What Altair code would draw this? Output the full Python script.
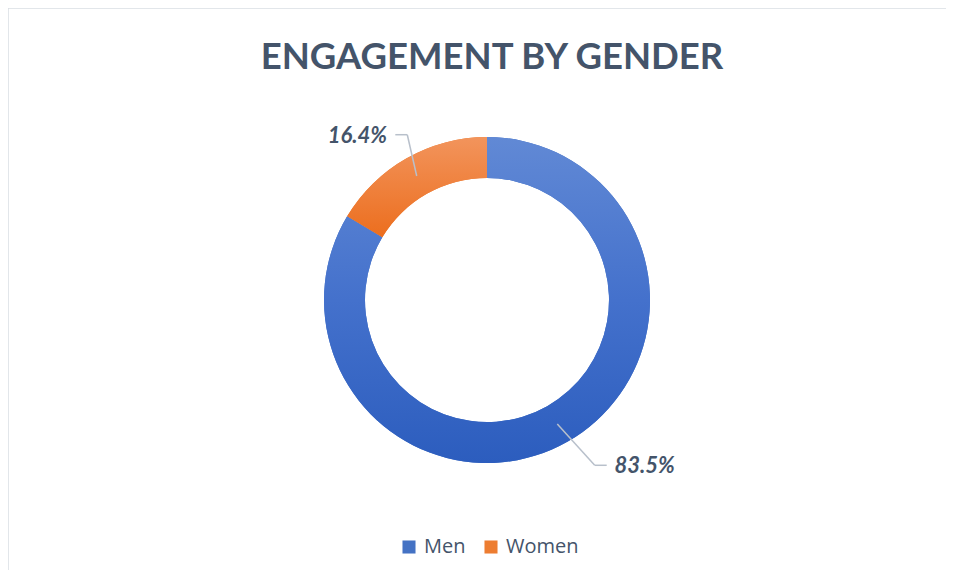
import altair as alt
import pandas as pd

# ---- data ----
categories = ["Men", "Women"]
shares = [83.5, 16.4]
base_colors = ["#4472C4", "#ED7D31"]
title_text = "ENGAGEMENT BY GENDER"

# ---- layout / style ----
W, H = 938, 562
CX, CY = 479, 292          # donut centre inside the view
R_IN, R_OUT = 122, 163
R_MID = (R_IN + R_OUT) / 2
R_ELBOW = 190
TEXT_COLOR = "#44546A"
FONT = "Lato"

df = pd.DataFrame({
    "category": categories,
    "value": shares,
    "order": list(range(len(categories))),
})

men_grad = alt.Gradient(
    gradient="linear", x1=0, x2=0, y1=0, y2=1,
    stops=[alt.GradientStop(color="#6189D5", offset=0),
           alt.GradientStop(color="#4471CC", offset=0.5),
           alt.GradientStop(color="#2C5DBE", offset=1)],
)
women_grad = alt.Gradient(
    gradient="linear", x1=0, x2=0, y1=0, y2=1,
    stops=[alt.GradientStop(color="#F2945C", offset=0),
           alt.GradientStop(color="#EC6E1E", offset=1)],
)

theta = alt.Theta("value:Q", stack=True)
order = alt.Order("order:Q")

ring = alt.Chart(df).mark_arc(
    innerRadius=R_IN, outerRadius=R_OUT, x=CX, y=CY
).encode(
    theta=theta,
    order=order,
    color=alt.Color(
        "category:N",
        scale=alt.Scale(domain=categories, range=base_colors),
        legend=alt.Legend(
            title=None, orient="none", direction="horizontal",
            legendX=391, legendY=529,
            symbolType="square", symbolSize=170, symbolStrokeWidth=0,
            labelFont="Open Sans", labelFontSize=20, labelColor=TEXT_COLOR,
            labelOffset=5, columnPadding=15,
        ),
    ),
)

ring_grad = alt.Chart(df).mark_arc(
    innerRadius=R_IN, outerRadius=R_OUT, x=CX, y=CY
).encode(
    theta=theta,
    order=order,
    color=alt.condition(alt.datum.category == categories[0],
                        alt.value(men_grad), alt.value(women_grad)),
)

geo = alt.Chart(df).transform_window(
    cum="sum(value)", sort=[alt.SortField("order")], frame=[None, 0]
).transform_joinaggregate(
    total="sum(value)"
).transform_calculate(
    mid="2*PI*(datum.cum - datum.value/2)/datum.total",
).transform_calculate(
    side="sin(datum.mid) < 0 ? -1 : 1",
    x0=f"{CX} + {R_MID}*sin(datum.mid)",
    y0=f"{CY} - {R_MID}*cos(datum.mid)",
    ex=f"{CX} + 14 + {R_ELBOW}*sin(datum.mid)",
    ey=f"{CY} - {R_ELBOW}*cos(datum.mid)",
    label="format(datum.value, '.1f') + '%'",
).transform_calculate(
    hx="datum.ex + datum.side*12",
    tx="datum.ex + datum.side*50",
    ty="datum.ey + 1",
)

line_color = "#B8C0CB"
leader1 = geo.mark_rule(color=line_color, strokeWidth=1.5).encode(
    x=alt.X("x0:Q", scale=None), y=alt.Y("y0:Q", scale=None),
    x2="ex:Q", y2="ey:Q",
)
leader2 = geo.mark_rule(color=line_color, strokeWidth=1.5).encode(
    x=alt.X("ex:Q", scale=None), y=alt.Y("ey:Q", scale=None),
    x2="hx:Q", y2="ey:Q",
)
labels = geo.mark_text(
    font=FONT, fontSize=22, fontWeight="bold", fontStyle="italic",
    color=TEXT_COLOR, align="center", baseline="middle",
).encode(
    x=alt.X("tx:Q", scale=None), y=alt.Y("ty:Q", scale=None),
    text="label:N",
)

# frame: draw only the top and left edges of the view rectangle
frame_dash = [W, W + H, H]

chart = alt.layer(ring, ring_grad, leader1, leader2, labels).properties(
    width=W, height=H,
    title=alt.TitleParams(
        title_text, font=FONT, fontSize=36.5, fontWeight="bold",
        color=TEXT_COLOR, anchor="middle", offset=-68, dx=15,
    ),
    autosize=alt.AutoSizeParams(type="none"),
    padding=0,
).configure_view(
    stroke="#D9DEE4", strokeWidth=1.5, fill="white",
    strokeDash=frame_dash,
)

chart.save("out.html", embed_options={"renderer": "svg", "actions": False})
